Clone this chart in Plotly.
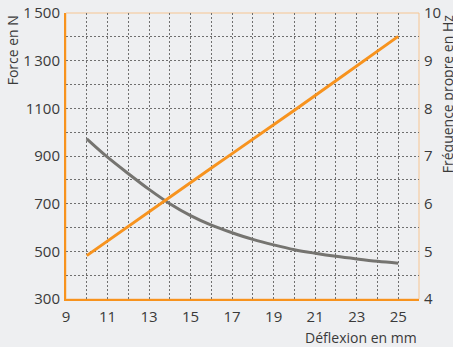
import plotly.graph_objects as go

# Deflection (mm)
deflexion = [10, 11, 12, 13, 14, 15, 16, 17, 18, 19, 20, 21, 22, 23, 24, 25]
# Spring force (N)
force = [972, 895, 826, 760, 700, 650, 610, 578, 550, 527, 507, 492, 479, 468, 458, 450]
# Natural frequency (Hz)
frequence = [4.91, 5.22, 5.52, 5.83, 6.13, 6.44, 6.75, 7.05, 7.35, 7.65, 7.96, 8.27, 8.58, 8.89, 9.20, 9.51]

x_ticks = [9, 11, 13, 15, 17, 19, 21, 23, 25]
force_ticks = [300, 500, 700, 900, 1100, 1300, 1500]
force_labels = ["300", "500", "700", "900", "1100", "1\u2009300", "1\u2009500"]
freq_ticks = [4, 5, 6, 7, 8, 9, 10]

ORANGE = "#f7931e"
LIGHT_ORANGE = "#f6c592"
GREY = "#757470"
TEXT = "#3a3a3a"
BG = "#eeeff1"
GRID = "#6f6f6f"
FONT = "Open Sans"

fig = go.Figure()
fig.add_trace(go.Scatter(x=deflexion, y=force, mode="lines", yaxis="y",
                         line=dict(color=GREY, width=3, shape="spline"),
                         showlegend=False, hoverinfo="skip"))
fig.add_trace(go.Scatter(x=deflexion, y=frequence, mode="lines", yaxis="y2",
                         line=dict(color=ORANGE, width=3),
                         showlegend=False, hoverinfo="skip"))

grid_style = dict(gridcolor=GRID, gridwidth=1, griddash="2px,2px")

fig.update_layout(
    width=453, height=347,
    margin=dict(l=66, r=34, t=13, b=48, autoexpand=False),
    paper_bgcolor=BG, plot_bgcolor=BG,
    font=dict(family=FONT, size=15, color=TEXT),
    xaxis=dict(range=[9, 26], tickmode="array", tickvals=x_ticks,
               showgrid=True, **grid_style,
               minor=dict(dtick=1, tick0=9, showgrid=True, **grid_style),
               showline=True, linecolor=ORANGE, linewidth=2, automargin=False,
               ticks="", zeroline=False, ticklabelstandoff=3),
    yaxis=dict(range=[300, 1500], tickmode="array", tickvals=force_ticks,
               ticktext=force_labels, showgrid=True, **grid_style,
               minor=dict(dtick=100, tick0=300, showgrid=True, **grid_style),
               showline=True, linecolor=ORANGE, linewidth=2, automargin=False,
               ticks="", zeroline=False, ticklabelstandoff=1),
    yaxis2=dict(range=[4, 10], tickmode="array", tickvals=freq_ticks,
                overlaying="y", side="right", showgrid=False, automargin=False,
                showline=False, ticks="", zeroline=False, ticklabelstandoff=4),
    shapes=[dict(type="rect", xref="paper", yref="paper", x0=0, x1=1, y0=0, y1=1,
                 line=dict(color=LIGHT_ORANGE, width=1), layer="below")],
    annotations=[
        dict(text="Force en N", xref="paper", yref="paper", x=-0.152, y=1.0,
             xanchor="center", yanchor="top", textangle=-90, showarrow=False,
             font=dict(size=14, color=TEXT)),
        dict(text="Fréquence propre en Hz", xref="paper", yref="paper", x=1.079, y=1.004,
             xanchor="center", yanchor="top", textangle=-90, showarrow=False,
             font=dict(size=14, color=TEXT)),
        dict(text="Déflexion en mm", xref="paper", yref="paper", x=1.0, y=-0.136,
             xanchor="right", yanchor="middle", showarrow=False,
             font=dict(size=14, color=TEXT)),
    ],
)

fig.write_html("out.html")
